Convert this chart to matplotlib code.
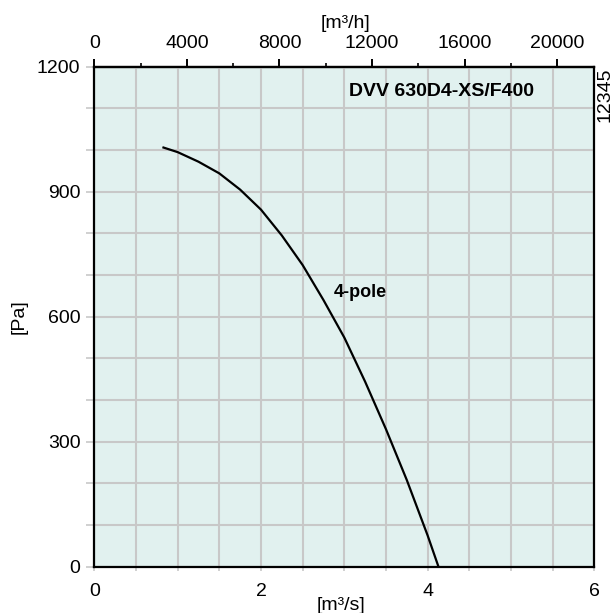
import numpy as np
import matplotlib
matplotlib.use("Agg")
from matplotlib import pyplot as plt
from matplotlib.ticker import MultipleLocator

plt.rcParams['font.family'] = ['Liberation Sans', 'DejaVu Sans']

# fan curve, flow [m3/s] vs pressure [Pa]
flow = [0.83, 1.0, 1.25, 1.5, 1.75, 2.0, 2.25, 2.5, 2.75, 3.0, 3.25, 3.5, 3.75, 4.0, 4.13]
pressure = [1006, 995, 972, 944, 905, 857, 795, 724, 640, 550, 444, 330, 208, 75, 0]

x_ticks = [0, 2, 4, 6]
y_ticks = [0, 300, 600, 900, 1200]
top_ticks = [0, 4000, 8000, 12000, 16000, 20000]

model = "DVV 630D4-XS/F400"
curve_label = "4-pole"

bg = '#e1f1ef'
grid_c = '#c8c8c8'

fig = plt.figure(figsize=(6.15, 6.13), dpi=100)
W, H = 615, 613
ax = fig.add_axes([94.3 / W, 1 - 566.7 / H, 500 / W, 500 / H])
ax.set_facecolor(bg)

ax.set_xlim(0, 6)
ax.set_ylim(0, 1200)
ax.set_xticks(x_ticks)
ax.set_yticks(y_ticks)
ax.xaxis.set_minor_locator(MultipleLocator(0.5))
ax.yaxis.set_minor_locator(MultipleLocator(100))
ax.grid(True, which='both', color=grid_c, lw=1.5, zorder=0)
ax.set_axisbelow(True)

ax.tick_params(axis='y', which='both', length=6, width=1.2, color=grid_c,
               labelsize=14, pad=4)
ax.tick_params(axis='x', which='both', length=3, width=1.2, color=grid_c,
               labelsize=14, pad=9)

for s in ax.spines.values():
    s.set_linewidth(1.6)
    s.set_color('black')

ax.plot(flow, pressure, color='black', lw=1.6, zorder=3)

ax.text(4.17, 1140, model, fontsize=14, fontweight='bold', ha='center', va='center')
ax.text(3.19, 659, curve_label, fontsize=13, fontweight='bold', ha='center', va='center')

top = ax.secondary_xaxis('top', functions=(lambda v: v * 3600, lambda v: v / 3600))
top.set_xticks(top_ticks)
top.xaxis.set_minor_locator(MultipleLocator(2000))
top.tick_params(which='major', length=5.5, width=1.4, color='black', labelsize=14, pad=5)
top.tick_params(which='minor', length=3, width=1.2, color='black')
top.spines['top'].set_linewidth(1.6)

fig.text(345 / W, 1 - 24 / H, '[m³/h]', fontsize=14, ha='center', va='center')
fig.text(341 / W, 1 - 605 / H, '[m³/s]', fontsize=14, ha='center', va='center')
fig.text(19 / W, 1 - 317 / H, '[Pa]', fontsize=14, ha='center', va='center', rotation=90)
fig.text(605 / W, 1 - 67 / H, '12345', fontsize=14, ha='center', va='top', rotation=90)

fig.savefig('out.png', dpi=100)
